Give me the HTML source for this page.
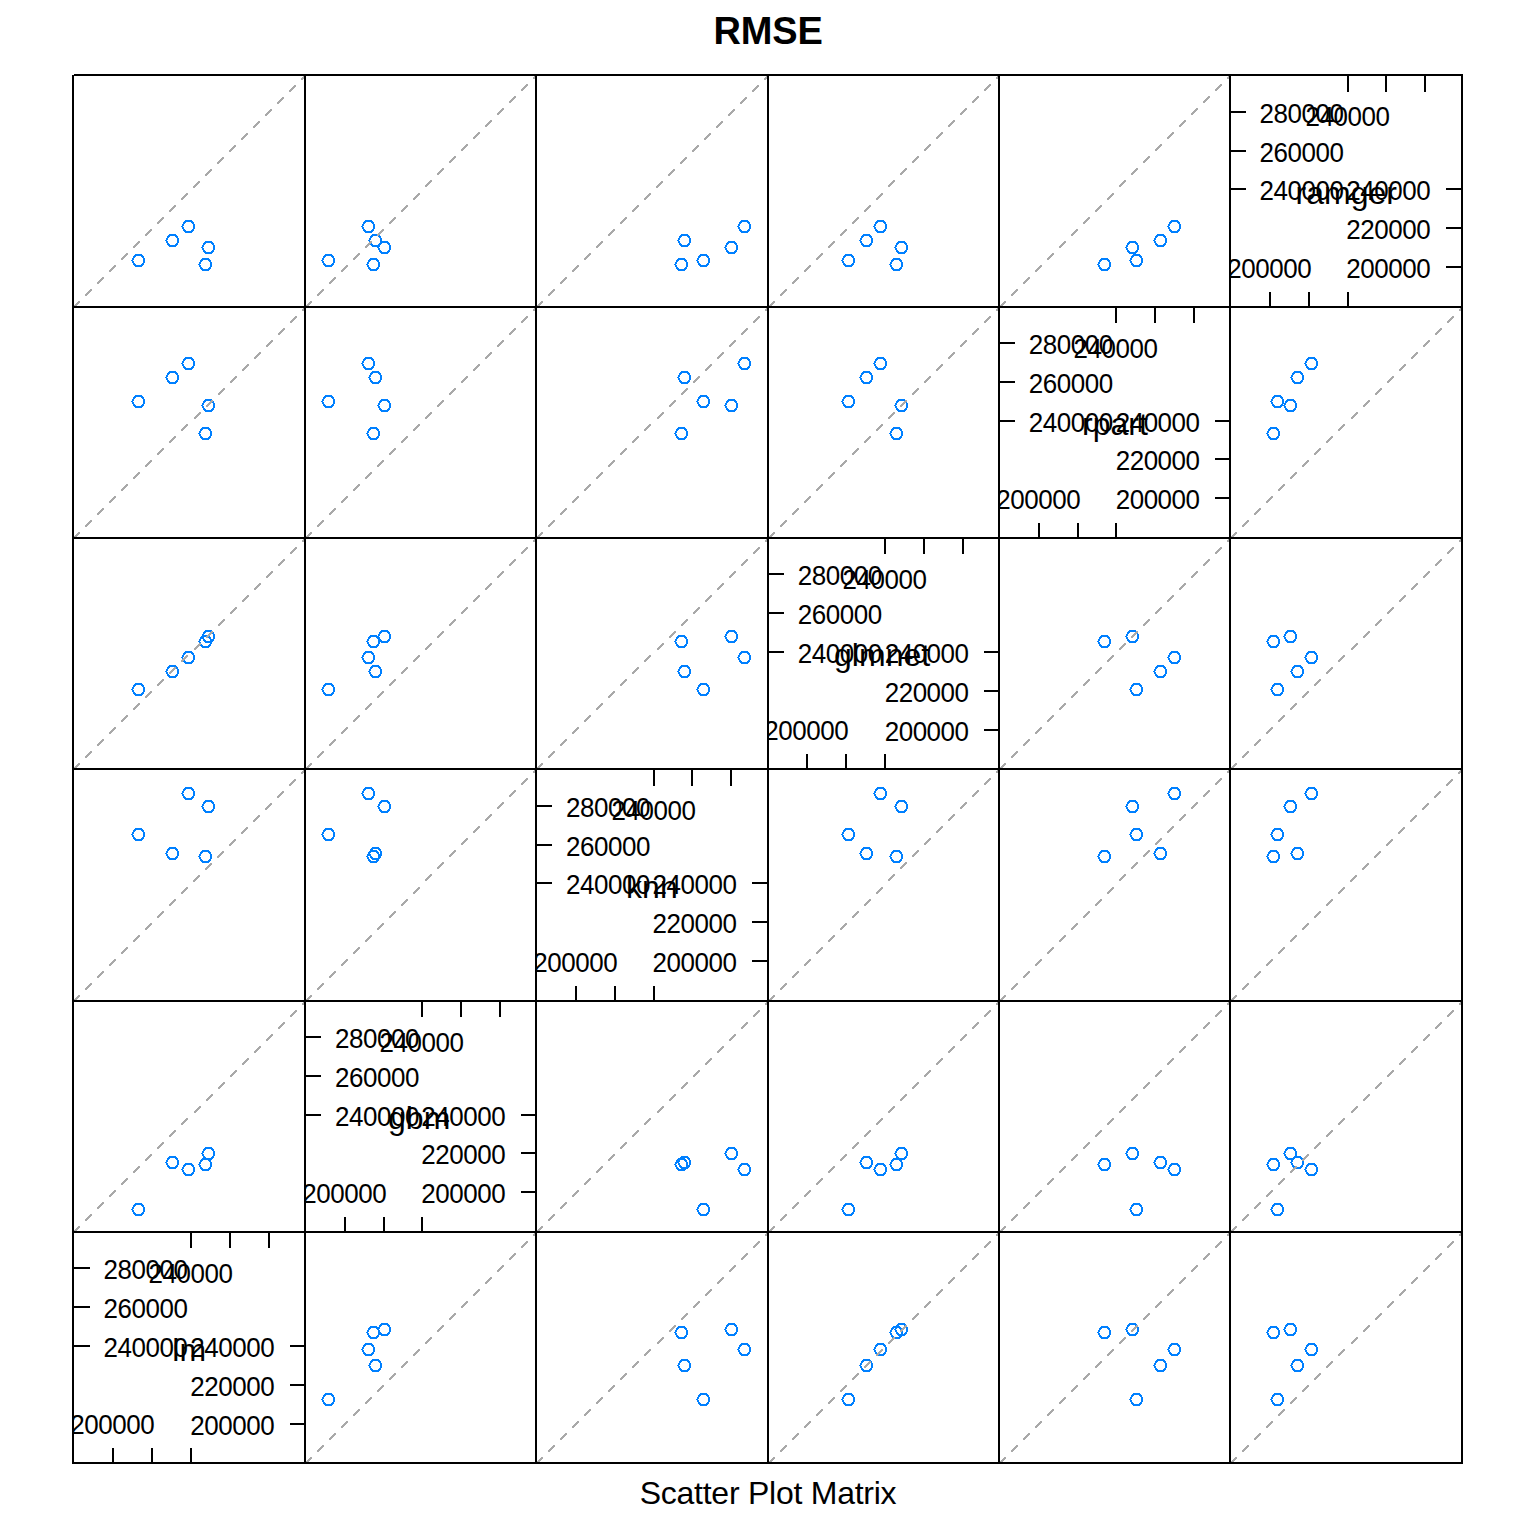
<!DOCTYPE html>
<html><head><meta charset="utf-8"><title>RMSE</title>
<style>html,body{margin:0;padding:0;background:#fff;}svg{display:block;}text{font-family:"Liberation Sans",sans-serif;fill:#000;}.ax{font-size:26px;letter-spacing:-0.46px;}.vn{font-size:32px;}.pt{fill:none;stroke:#0080ff;stroke-width:2;}.dg{stroke:#a9a9a9;stroke-width:2;stroke-dasharray:8.7 8.27;fill:none;shape-rendering:crispEdges;}.ln{fill:#000;shape-rendering:crispEdges;}</style></head><body>
<svg width="1536" height="1536" viewBox="0 0 1536 1536">
<rect x="0" y="0" width="1536" height="1536" fill="#ffffff"/>
<defs>
<clipPath id="cp0"><rect x="74" y="1233" width="230" height="229"/></clipPath>
<clipPath id="cp1"><rect x="306" y="1002" width="229" height="229"/></clipPath>
<clipPath id="cp2"><rect x="537" y="770" width="230" height="230"/></clipPath>
<clipPath id="cp3"><rect x="769" y="539" width="229" height="229"/></clipPath>
<clipPath id="cp4"><rect x="1000" y="308" width="229" height="229"/></clipPath>
<clipPath id="cp5"><rect x="1231" y="76" width="230" height="230"/></clipPath>
<path id="c" d="M3 0h7v1h-7zM2 1h9v1h-9zM1 2h3v1h-3zM9 2h3v1h-3zM1 3h2v1h-2zM10 3h2v1h-2zM0 4h2v1h-2zM11 4h2v1h-2zM0 5h2v1h-2zM11 5h2v1h-2zM-1 6h2v1h-2zM11 6h2v1h-2zM0 7h2v1h-2zM11 7h2v1h-2zM0 8h2v1h-2zM11 8h2v1h-2zM1 9h2v1h-2zM10 9h2v1h-2zM1 10h3v1h-3zM9 10h3v1h-3zM2 11h9v1h-9zM3 12h7v1h-7z" fill="#0080ff" shape-rendering="crispEdges"/>
<path id="d0" d="M0 0h2v2h-2zM1 -1h2v2h-2zM2 -2h2v2h-2zM3 -3h2v2h-2zM4 -4h2v2h-2zM5 -5h2v2h-2zM12 -12h2v2h-2zM13 -13h2v2h-2zM14 -14h2v2h-2zM15 -15h2v2h-2zM16 -16h2v2h-2zM17 -17h2v2h-2zM24 -24h2v2h-2zM25 -25h2v2h-2zM26 -26h2v2h-2zM27 -27h2v2h-2zM28 -28h2v2h-2zM29 -29h2v2h-2zM36 -36h2v2h-2zM37 -37h2v2h-2zM38 -38h2v2h-2zM39 -39h2v2h-2zM40 -40h2v2h-2zM41 -41h2v2h-2zM48 -48h2v2h-2zM49 -49h2v2h-2zM50 -50h2v2h-2zM51 -51h2v2h-2zM52 -52h2v2h-2zM53 -53h2v2h-2zM60 -60h2v2h-2zM61 -61h2v2h-2zM62 -62h2v2h-2zM63 -63h2v2h-2zM64 -64h2v2h-2zM65 -65h2v2h-2zM72 -72h2v2h-2zM73 -73h2v2h-2zM74 -74h2v2h-2zM75 -75h2v2h-2zM76 -76h2v2h-2zM77 -77h2v2h-2zM84 -84h2v2h-2zM85 -85h2v2h-2zM86 -86h2v2h-2zM87 -87h2v2h-2zM88 -88h2v2h-2zM89 -89h2v2h-2zM96 -96h2v2h-2zM97 -97h2v2h-2zM98 -98h2v2h-2zM99 -99h2v2h-2zM100 -100h2v2h-2zM101 -101h2v2h-2zM108 -108h2v2h-2zM109 -109h2v2h-2zM110 -110h2v2h-2zM111 -111h2v2h-2zM112 -112h2v2h-2zM113 -113h2v2h-2zM120 -120h2v2h-2zM121 -121h2v2h-2zM122 -122h2v2h-2zM123 -123h2v2h-2zM124 -124h2v2h-2zM125 -125h2v2h-2zM132 -132h2v2h-2zM133 -133h2v2h-2zM134 -134h2v2h-2zM135 -135h2v2h-2zM136 -136h2v2h-2zM137 -137h2v2h-2zM144 -144h2v2h-2zM145 -145h2v2h-2zM146 -146h2v2h-2zM147 -147h2v2h-2zM148 -148h2v2h-2zM149 -149h2v2h-2zM156 -156h2v2h-2zM157 -157h2v2h-2zM158 -158h2v2h-2zM159 -159h2v2h-2zM160 -160h2v2h-2zM161 -161h2v2h-2zM168 -168h2v2h-2zM169 -169h2v2h-2zM170 -170h2v2h-2zM171 -171h2v2h-2zM172 -172h2v2h-2zM173 -173h2v2h-2zM180 -180h2v2h-2zM181 -181h2v2h-2zM182 -182h2v2h-2zM183 -183h2v2h-2zM184 -184h2v2h-2zM185 -185h2v2h-2zM192 -192h2v2h-2zM193 -193h2v2h-2zM194 -194h2v2h-2zM195 -195h2v2h-2zM196 -196h2v2h-2zM197 -197h2v2h-2zM204 -204h2v2h-2zM205 -205h2v2h-2zM206 -206h2v2h-2zM207 -207h2v2h-2zM208 -208h2v2h-2zM209 -209h2v2h-2zM216 -216h2v2h-2zM217 -217h2v2h-2zM218 -218h2v2h-2zM219 -219h2v2h-2zM220 -220h2v2h-2zM221 -221h2v2h-2zM228 -228h2v2h-2zM229 -229h2v2h-2zM230 -230h2v2h-2z" fill="#a9a9a9" shape-rendering="crispEdges"/>
<path id="dx" d="M0 0h2v2h-2zM1 -1h2v2h-2zM2 -2h2v2h-2zM3 -3h2v2h-2zM4 -4h2v2h-2zM5 -5h2v2h-2zM12 -12h2v2h-2zM13 -13h2v2h-2zM14 -14h2v2h-2zM15 -15h2v2h-2zM16 -16h2v2h-2zM17 -17h2v2h-2zM24 -24h2v2h-2zM25 -25h2v2h-2zM26 -26h2v2h-2zM27 -27h2v2h-2zM28 -28h2v2h-2zM29 -29h2v2h-2zM36 -36h2v2h-2zM37 -37h2v2h-2zM38 -38h2v2h-2zM39 -39h2v2h-2zM40 -40h2v2h-2zM41 -41h2v2h-2zM48 -48h2v2h-2zM49 -49h2v2h-2zM50 -50h2v2h-2zM51 -51h2v2h-2zM52 -52h2v2h-2zM53 -53h2v2h-2zM60 -60h2v2h-2zM61 -61h2v2h-2zM62 -62h2v2h-2zM63 -63h2v2h-2zM64 -64h2v2h-2zM65 -65h2v2h-2zM72 -72h2v2h-2zM73 -73h2v2h-2zM74 -74h2v2h-2zM75 -75h2v2h-2zM76 -76h2v2h-2zM77 -77h2v2h-2zM84 -84h2v2h-2zM85 -85h2v2h-2zM86 -86h2v2h-2zM87 -87h2v2h-2zM88 -88h2v2h-2zM89 -89h2v2h-2zM96 -96h2v2h-2zM97 -97h2v2h-2zM98 -98h2v2h-2zM99 -99h2v2h-2zM100 -100h2v2h-2zM101 -101h2v2h-2zM108 -108h2v2h-2zM109 -109h2v2h-2zM110 -110h2v2h-2zM111 -111h2v2h-2zM112 -112h2v2h-2zM113 -113h2v2h-2zM121 -120h2v2h-2zM122 -121h2v2h-2zM123 -122h2v2h-2zM124 -123h2v2h-2zM125 -124h2v2h-2zM126 -125h2v2h-2zM133 -132h2v2h-2zM134 -133h2v2h-2zM135 -134h2v2h-2zM136 -135h2v2h-2zM137 -136h2v2h-2zM138 -137h2v2h-2zM145 -144h2v2h-2zM146 -145h2v2h-2zM147 -146h2v2h-2zM148 -147h2v2h-2zM149 -148h2v2h-2zM150 -149h2v2h-2zM157 -156h2v2h-2zM158 -157h2v2h-2zM159 -158h2v2h-2zM160 -159h2v2h-2zM161 -160h2v2h-2zM162 -161h2v2h-2zM169 -168h2v2h-2zM170 -169h2v2h-2zM171 -170h2v2h-2zM172 -171h2v2h-2zM173 -172h2v2h-2zM174 -173h2v2h-2zM181 -180h2v2h-2zM182 -181h2v2h-2zM183 -182h2v2h-2zM184 -183h2v2h-2zM185 -184h2v2h-2zM186 -185h2v2h-2zM193 -192h2v2h-2zM194 -193h2v2h-2zM195 -194h2v2h-2zM196 -195h2v2h-2zM197 -196h2v2h-2zM198 -197h2v2h-2zM205 -204h2v2h-2zM206 -205h2v2h-2zM207 -206h2v2h-2zM208 -207h2v2h-2zM209 -208h2v2h-2zM210 -209h2v2h-2zM217 -216h2v2h-2zM218 -217h2v2h-2zM219 -218h2v2h-2zM220 -219h2v2h-2zM221 -220h2v2h-2zM222 -221h2v2h-2zM229 -228h2v2h-2zM230 -229h2v2h-2zM231 -230h2v2h-2z" fill="#a9a9a9" shape-rendering="crispEdges"/>
<path id="dy" d="M0 0h2v2h-2zM1 -1h2v2h-2zM2 -2h2v2h-2zM3 -3h2v2h-2zM4 -4h2v2h-2zM5 -5h2v2h-2zM12 -12h2v2h-2zM13 -13h2v2h-2zM14 -14h2v2h-2zM15 -15h2v2h-2zM16 -16h2v2h-2zM17 -17h2v2h-2zM24 -24h2v2h-2zM25 -25h2v2h-2zM26 -26h2v2h-2zM27 -27h2v2h-2zM28 -28h2v2h-2zM29 -29h2v2h-2zM36 -36h2v2h-2zM37 -37h2v2h-2zM38 -38h2v2h-2zM39 -39h2v2h-2zM40 -40h2v2h-2zM41 -41h2v2h-2zM48 -48h2v2h-2zM49 -49h2v2h-2zM50 -50h2v2h-2zM51 -51h2v2h-2zM52 -52h2v2h-2zM53 -53h2v2h-2zM60 -60h2v2h-2zM61 -61h2v2h-2zM62 -62h2v2h-2zM63 -63h2v2h-2zM64 -64h2v2h-2zM65 -65h2v2h-2zM72 -72h2v2h-2zM73 -73h2v2h-2zM74 -74h2v2h-2zM75 -75h2v2h-2zM76 -76h2v2h-2zM77 -77h2v2h-2zM84 -84h2v2h-2zM85 -85h2v2h-2zM86 -86h2v2h-2zM87 -87h2v2h-2zM88 -88h2v2h-2zM89 -89h2v2h-2zM96 -96h2v2h-2zM97 -97h2v2h-2zM98 -98h2v2h-2zM99 -99h2v2h-2zM100 -100h2v2h-2zM101 -101h2v2h-2zM108 -108h2v2h-2zM109 -109h2v2h-2zM110 -110h2v2h-2zM111 -111h2v2h-2zM112 -112h2v2h-2zM113 -113h2v2h-2zM120 -121h2v2h-2zM121 -122h2v2h-2zM122 -123h2v2h-2zM123 -124h2v2h-2zM124 -125h2v2h-2zM125 -126h2v2h-2zM132 -133h2v2h-2zM133 -134h2v2h-2zM134 -135h2v2h-2zM135 -136h2v2h-2zM136 -137h2v2h-2zM137 -138h2v2h-2zM144 -145h2v2h-2zM145 -146h2v2h-2zM146 -147h2v2h-2zM147 -148h2v2h-2zM148 -149h2v2h-2zM149 -150h2v2h-2zM156 -157h2v2h-2zM157 -158h2v2h-2zM158 -159h2v2h-2zM159 -160h2v2h-2zM160 -161h2v2h-2zM161 -162h2v2h-2zM168 -169h2v2h-2zM169 -170h2v2h-2zM170 -171h2v2h-2zM171 -172h2v2h-2zM172 -173h2v2h-2zM173 -174h2v2h-2zM180 -181h2v2h-2zM181 -182h2v2h-2zM182 -183h2v2h-2zM183 -184h2v2h-2zM184 -185h2v2h-2zM185 -186h2v2h-2zM192 -193h2v2h-2zM193 -194h2v2h-2zM194 -195h2v2h-2zM195 -196h2v2h-2zM196 -197h2v2h-2zM197 -198h2v2h-2zM204 -205h2v2h-2zM205 -206h2v2h-2zM206 -207h2v2h-2zM207 -208h2v2h-2zM208 -209h2v2h-2zM209 -210h2v2h-2zM216 -217h2v2h-2zM217 -218h2v2h-2zM218 -219h2v2h-2zM219 -220h2v2h-2zM220 -221h2v2h-2zM221 -222h2v2h-2zM228 -229h2v2h-2zM229 -230h2v2h-2zM230 -231h2v2h-2z" fill="#a9a9a9" shape-rendering="crispEdges"/>
</defs>
<text x="768.1" y="43.8" text-anchor="middle" style="font-size:38px;font-weight:bold;letter-spacing:-0.2px">RMSE</text>
<text x="768" y="1503.5" text-anchor="middle" style="font-size:32px;letter-spacing:-0.25px">Scatter Plot Matrix</text>
<g>
<use href="#c" x="132" y="254"/>
<use href="#c" x="166" y="234"/>
<use href="#c" x="182" y="220"/>
<use href="#c" x="202" y="241"/>
<use href="#c" x="199" y="258"/>
<use href="#d0" x="73" y="306"/>
</g>
<g>
<use href="#c" x="322" y="254"/>
<use href="#c" x="369" y="234"/>
<use href="#c" x="362" y="220"/>
<use href="#c" x="378" y="241"/>
<use href="#c" x="367" y="258"/>
<use href="#dy" x="305" y="306"/>
</g>
<g>
<use href="#c" x="697" y="254"/>
<use href="#c" x="678" y="234"/>
<use href="#c" x="738" y="220"/>
<use href="#c" x="725" y="241"/>
<use href="#c" x="675" y="258"/>
<use href="#d0" x="536" y="306"/>
</g>
<g>
<use href="#c" x="842" y="254"/>
<use href="#c" x="860" y="234"/>
<use href="#c" x="874" y="220"/>
<use href="#c" x="895" y="241"/>
<use href="#c" x="890" y="258"/>
<use href="#dy" x="768" y="306"/>
</g>
<g>
<use href="#c" x="1130" y="254"/>
<use href="#c" x="1154" y="234"/>
<use href="#c" x="1168" y="220"/>
<use href="#c" x="1126" y="241"/>
<use href="#c" x="1098" y="258"/>
<use href="#dy" x="999" y="306"/>
</g>
<g>
<use href="#c" x="132" y="395"/>
<use href="#c" x="166" y="371"/>
<use href="#c" x="182" y="357"/>
<use href="#c" x="202" y="399"/>
<use href="#c" x="199" y="427"/>
<use href="#dx" x="73" y="537"/>
</g>
<g>
<use href="#c" x="322" y="395"/>
<use href="#c" x="369" y="371"/>
<use href="#c" x="362" y="357"/>
<use href="#c" x="378" y="399"/>
<use href="#c" x="367" y="427"/>
<use href="#d0" x="305" y="537"/>
</g>
<g>
<use href="#c" x="697" y="395"/>
<use href="#c" x="678" y="371"/>
<use href="#c" x="738" y="357"/>
<use href="#c" x="725" y="399"/>
<use href="#c" x="675" y="427"/>
<use href="#dx" x="536" y="537"/>
</g>
<g>
<use href="#c" x="842" y="395"/>
<use href="#c" x="860" y="371"/>
<use href="#c" x="874" y="357"/>
<use href="#c" x="895" y="399"/>
<use href="#c" x="890" y="427"/>
<use href="#d0" x="768" y="537"/>
</g>
<g>
<use href="#c" x="1271" y="395"/>
<use href="#c" x="1291" y="371"/>
<use href="#c" x="1305" y="357"/>
<use href="#c" x="1284" y="399"/>
<use href="#c" x="1267" y="427"/>
<use href="#dx" x="1230" y="537"/>
</g>
<g>
<use href="#c" x="132" y="683"/>
<use href="#c" x="166" y="665"/>
<use href="#c" x="182" y="651"/>
<use href="#c" x="202" y="630"/>
<use href="#c" x="199" y="635"/>
<use href="#dx" x="73" y="768"/>
</g>
<g>
<use href="#c" x="322" y="683"/>
<use href="#c" x="369" y="665"/>
<use href="#c" x="362" y="651"/>
<use href="#c" x="378" y="630"/>
<use href="#c" x="367" y="635"/>
<use href="#d0" x="305" y="768"/>
</g>
<g>
<use href="#c" x="697" y="683"/>
<use href="#c" x="678" y="665"/>
<use href="#c" x="738" y="651"/>
<use href="#c" x="725" y="630"/>
<use href="#c" x="675" y="635"/>
<use href="#dx" x="536" y="768"/>
</g>
<g>
<use href="#c" x="1130" y="683"/>
<use href="#c" x="1154" y="665"/>
<use href="#c" x="1168" y="651"/>
<use href="#c" x="1126" y="630"/>
<use href="#c" x="1098" y="635"/>
<use href="#d0" x="999" y="768"/>
</g>
<g>
<use href="#c" x="1271" y="683"/>
<use href="#c" x="1291" y="665"/>
<use href="#c" x="1305" y="651"/>
<use href="#c" x="1284" y="630"/>
<use href="#c" x="1267" y="635"/>
<use href="#dx" x="1230" y="768"/>
</g>
<g>
<use href="#c" x="132" y="828"/>
<use href="#c" x="166" y="847"/>
<use href="#c" x="182" y="787"/>
<use href="#c" x="202" y="800"/>
<use href="#c" x="199" y="850"/>
<use href="#d0" x="73" y="1000"/>
</g>
<g>
<use href="#c" x="322" y="828"/>
<use href="#c" x="369" y="847"/>
<use href="#c" x="362" y="787"/>
<use href="#c" x="378" y="800"/>
<use href="#c" x="367" y="850"/>
<use href="#dy" x="305" y="1000"/>
</g>
<g>
<use href="#c" x="842" y="828"/>
<use href="#c" x="860" y="847"/>
<use href="#c" x="874" y="787"/>
<use href="#c" x="895" y="800"/>
<use href="#c" x="890" y="850"/>
<use href="#dy" x="768" y="1000"/>
</g>
<g>
<use href="#c" x="1130" y="828"/>
<use href="#c" x="1154" y="847"/>
<use href="#c" x="1168" y="787"/>
<use href="#c" x="1126" y="800"/>
<use href="#c" x="1098" y="850"/>
<use href="#dy" x="999" y="1000"/>
</g>
<g>
<use href="#c" x="1271" y="828"/>
<use href="#c" x="1291" y="847"/>
<use href="#c" x="1305" y="787"/>
<use href="#c" x="1284" y="800"/>
<use href="#c" x="1267" y="850"/>
<use href="#d0" x="1230" y="1000"/>
</g>
<g>
<use href="#c" x="132" y="1203"/>
<use href="#c" x="166" y="1156"/>
<use href="#c" x="182" y="1163"/>
<use href="#c" x="202" y="1147"/>
<use href="#c" x="199" y="1158"/>
<use href="#dx" x="73" y="1231"/>
</g>
<g>
<use href="#c" x="697" y="1203"/>
<use href="#c" x="678" y="1156"/>
<use href="#c" x="738" y="1163"/>
<use href="#c" x="725" y="1147"/>
<use href="#c" x="675" y="1158"/>
<use href="#dx" x="536" y="1231"/>
</g>
<g>
<use href="#c" x="842" y="1203"/>
<use href="#c" x="860" y="1156"/>
<use href="#c" x="874" y="1163"/>
<use href="#c" x="895" y="1147"/>
<use href="#c" x="890" y="1158"/>
<use href="#d0" x="768" y="1231"/>
</g>
<g>
<use href="#c" x="1130" y="1203"/>
<use href="#c" x="1154" y="1156"/>
<use href="#c" x="1168" y="1163"/>
<use href="#c" x="1126" y="1147"/>
<use href="#c" x="1098" y="1158"/>
<use href="#d0" x="999" y="1231"/>
</g>
<g>
<use href="#c" x="1271" y="1203"/>
<use href="#c" x="1291" y="1156"/>
<use href="#c" x="1305" y="1163"/>
<use href="#c" x="1284" y="1147"/>
<use href="#c" x="1267" y="1158"/>
<use href="#dx" x="1230" y="1231"/>
</g>
<g>
<use href="#c" x="322" y="1393"/>
<use href="#c" x="369" y="1359"/>
<use href="#c" x="362" y="1343"/>
<use href="#c" x="378" y="1323"/>
<use href="#c" x="367" y="1326"/>
<use href="#d0" x="305" y="1462"/>
</g>
<g>
<use href="#c" x="697" y="1393"/>
<use href="#c" x="678" y="1359"/>
<use href="#c" x="738" y="1343"/>
<use href="#c" x="725" y="1323"/>
<use href="#c" x="675" y="1326"/>
<use href="#dx" x="536" y="1462"/>
</g>
<g>
<use href="#c" x="842" y="1393"/>
<use href="#c" x="860" y="1359"/>
<use href="#c" x="874" y="1343"/>
<use href="#c" x="895" y="1323"/>
<use href="#c" x="890" y="1326"/>
<use href="#d0" x="768" y="1462"/>
</g>
<g>
<use href="#c" x="1130" y="1393"/>
<use href="#c" x="1154" y="1359"/>
<use href="#c" x="1168" y="1343"/>
<use href="#c" x="1126" y="1323"/>
<use href="#c" x="1098" y="1326"/>
<use href="#d0" x="999" y="1462"/>
</g>
<g>
<use href="#c" x="1271" y="1393"/>
<use href="#c" x="1291" y="1359"/>
<use href="#c" x="1305" y="1343"/>
<use href="#c" x="1284" y="1323"/>
<use href="#c" x="1267" y="1326"/>
<use href="#dx" x="1230" y="1462"/>
</g>
<g clip-path="url(#cp0)">
<rect class="ln" x="112" y="1448" width="2" height="15"/>
<rect class="ln" x="290" y="1423" width="15" height="2"/>
<rect class="ln" x="151" y="1448" width="2" height="15"/>
<rect class="ln" x="290" y="1384" width="15" height="2"/>
<rect class="ln" x="190" y="1448" width="2" height="15"/>
<rect class="ln" x="290" y="1345" width="15" height="2"/>
<rect class="ln" x="190" y="1232" width="2" height="16"/>
<rect class="ln" x="73" y="1345" width="17" height="2"/>
<rect class="ln" x="229" y="1232" width="2" height="16"/>
<rect class="ln" x="73" y="1306" width="17" height="2"/>
<rect class="ln" x="268" y="1232" width="2" height="16"/>
<rect class="ln" x="73" y="1267" width="17" height="2"/>
<text class="ax" transform="translate(103.6 1356.8) scale(1 1.05)">240000</text>
<text class="ax" transform="translate(103.6 1317.8) scale(1 1.05)">260000</text>
<text class="ax" transform="translate(103.6 1278.8) scale(1 1.05)">280000</text>
<text class="ax" transform="translate(274.2 1434.8) scale(1 1.05)" text-anchor="end">200000</text>
<text class="ax" transform="translate(274.2 1395.8) scale(1 1.05)" text-anchor="end">220000</text>
<text class="ax" transform="translate(274.2 1356.8) scale(1 1.05)" text-anchor="end">240000</text>
<text class="ax" transform="translate(190.5 1282.8) scale(1 1.05)" text-anchor="middle">240000</text>
<text class="ax" transform="translate(112.3 1434) scale(1 1.05)" text-anchor="middle">200000</text>
<text class="vn" x="189.2" y="1360.9" text-anchor="middle">lm</text>
</g>
<g clip-path="url(#cp1)">
<rect class="ln" x="344" y="1217" width="2" height="15"/>
<rect class="ln" x="521" y="1191" width="15" height="2"/>
<rect class="ln" x="383" y="1217" width="2" height="15"/>
<rect class="ln" x="521" y="1152" width="15" height="2"/>
<rect class="ln" x="421" y="1217" width="2" height="15"/>
<rect class="ln" x="521" y="1114" width="15" height="2"/>
<rect class="ln" x="421" y="1001" width="2" height="16"/>
<rect class="ln" x="305" y="1114" width="16" height="2"/>
<rect class="ln" x="460" y="1001" width="2" height="16"/>
<rect class="ln" x="305" y="1075" width="16" height="2"/>
<rect class="ln" x="499" y="1001" width="2" height="16"/>
<rect class="ln" x="305" y="1036" width="16" height="2"/>
<text class="ax" transform="translate(335 1125.8) scale(1 1.05)">240000</text>
<text class="ax" transform="translate(335 1086.8) scale(1 1.05)">260000</text>
<text class="ax" transform="translate(335 1047.8) scale(1 1.05)">280000</text>
<text class="ax" transform="translate(505.2 1202.8) scale(1 1.05)" text-anchor="end">200000</text>
<text class="ax" transform="translate(505.2 1163.8) scale(1 1.05)" text-anchor="end">220000</text>
<text class="ax" transform="translate(505.2 1125.8) scale(1 1.05)" text-anchor="end">240000</text>
<text class="ax" transform="translate(421.5 1051.8) scale(1 1.05)" text-anchor="middle">240000</text>
<text class="ax" transform="translate(344.3 1203) scale(1 1.05)" text-anchor="middle">200000</text>
<text class="vn" x="419.2" y="1129" text-anchor="middle">gbm</text>
</g>
<g clip-path="url(#cp2)">
<rect class="ln" x="575" y="986" width="2" height="15"/>
<rect class="ln" x="752" y="960" width="16" height="2"/>
<rect class="ln" x="614" y="986" width="2" height="15"/>
<rect class="ln" x="752" y="921" width="16" height="2"/>
<rect class="ln" x="653" y="986" width="2" height="15"/>
<rect class="ln" x="752" y="882" width="16" height="2"/>
<rect class="ln" x="653" y="769" width="2" height="17"/>
<rect class="ln" x="536" y="882" width="16" height="2"/>
<rect class="ln" x="691" y="769" width="2" height="17"/>
<rect class="ln" x="536" y="844" width="16" height="2"/>
<rect class="ln" x="730" y="769" width="2" height="17"/>
<rect class="ln" x="536" y="805" width="16" height="2"/>
<text class="ax" transform="translate(566 893.8) scale(1 1.05)">240000</text>
<text class="ax" transform="translate(566 855.8) scale(1 1.05)">260000</text>
<text class="ax" transform="translate(566 816.8) scale(1 1.05)">280000</text>
<text class="ax" transform="translate(736.5 971.8) scale(1 1.05)" text-anchor="end">200000</text>
<text class="ax" transform="translate(736.5 932.8) scale(1 1.05)" text-anchor="end">220000</text>
<text class="ax" transform="translate(736.5 893.8) scale(1 1.05)" text-anchor="end">240000</text>
<text class="ax" transform="translate(653.5 819.8) scale(1 1.05)" text-anchor="middle">240000</text>
<text class="ax" transform="translate(575.3 972) scale(1 1.05)" text-anchor="middle">200000</text>
<text class="vn" x="651.9" y="897.9" text-anchor="middle">knn</text>
</g>
<g clip-path="url(#cp3)">
<rect class="ln" x="806" y="754" width="2" height="15"/>
<rect class="ln" x="984" y="729" width="15" height="2"/>
<rect class="ln" x="845" y="754" width="2" height="15"/>
<rect class="ln" x="984" y="690" width="15" height="2"/>
<rect class="ln" x="884" y="754" width="2" height="15"/>
<rect class="ln" x="984" y="651" width="15" height="2"/>
<rect class="ln" x="884" y="538" width="2" height="16"/>
<rect class="ln" x="768" y="651" width="16" height="2"/>
<rect class="ln" x="923" y="538" width="2" height="16"/>
<rect class="ln" x="768" y="612" width="16" height="2"/>
<rect class="ln" x="962" y="538" width="2" height="16"/>
<rect class="ln" x="768" y="573" width="16" height="2"/>
<text class="ax" transform="translate(797.8 662.8) scale(1 1.05)">240000</text>
<text class="ax" transform="translate(797.8 623.8) scale(1 1.05)">260000</text>
<text class="ax" transform="translate(797.8 584.8) scale(1 1.05)">280000</text>
<text class="ax" transform="translate(968.6 740.8) scale(1 1.05)" text-anchor="end">200000</text>
<text class="ax" transform="translate(968.6 701.8) scale(1 1.05)" text-anchor="end">220000</text>
<text class="ax" transform="translate(968.6 662.8) scale(1 1.05)" text-anchor="end">240000</text>
<text class="ax" transform="translate(884.5 588.8) scale(1 1.05)" text-anchor="middle">240000</text>
<text class="ax" transform="translate(806.3 740) scale(1 1.05)" text-anchor="middle">200000</text>
<text class="vn" x="882.1" y="666.4" text-anchor="middle">glmnet</text>
</g>
<g clip-path="url(#cp4)">
<rect class="ln" x="1038" y="523" width="2" height="15"/>
<rect class="ln" x="1215" y="497" width="15" height="2"/>
<rect class="ln" x="1077" y="523" width="2" height="15"/>
<rect class="ln" x="1215" y="458" width="15" height="2"/>
<rect class="ln" x="1115" y="523" width="2" height="15"/>
<rect class="ln" x="1215" y="420" width="15" height="2"/>
<rect class="ln" x="1115" y="307" width="2" height="16"/>
<rect class="ln" x="999" y="420" width="16" height="2"/>
<rect class="ln" x="1154" y="307" width="2" height="16"/>
<rect class="ln" x="999" y="381" width="16" height="2"/>
<rect class="ln" x="1193" y="307" width="2" height="16"/>
<rect class="ln" x="999" y="342" width="16" height="2"/>
<text class="ax" transform="translate(1028.8 431.8) scale(1 1.05)">240000</text>
<text class="ax" transform="translate(1028.8 392.8) scale(1 1.05)">260000</text>
<text class="ax" transform="translate(1028.8 353.8) scale(1 1.05)">280000</text>
<text class="ax" transform="translate(1199.6 508.8) scale(1 1.05)" text-anchor="end">200000</text>
<text class="ax" transform="translate(1199.6 469.8) scale(1 1.05)" text-anchor="end">220000</text>
<text class="ax" transform="translate(1199.6 431.8) scale(1 1.05)" text-anchor="end">240000</text>
<text class="ax" transform="translate(1115.5 357.8) scale(1 1.05)" text-anchor="middle">240000</text>
<text class="ax" transform="translate(1038.3 509) scale(1 1.05)" text-anchor="middle">200000</text>
<text class="vn" x="1115" y="435.3" text-anchor="middle">rpart</text>
</g>
<g clip-path="url(#cp5)">
<rect class="ln" x="1269" y="292" width="2" height="15"/>
<rect class="ln" x="1446" y="266" width="16" height="2"/>
<rect class="ln" x="1308" y="292" width="2" height="15"/>
<rect class="ln" x="1446" y="227" width="16" height="2"/>
<rect class="ln" x="1347" y="292" width="2" height="15"/>
<rect class="ln" x="1446" y="188" width="16" height="2"/>
<rect class="ln" x="1347" y="75" width="2" height="17"/>
<rect class="ln" x="1230" y="188" width="16" height="2"/>
<rect class="ln" x="1385" y="75" width="2" height="17"/>
<rect class="ln" x="1230" y="150" width="16" height="2"/>
<rect class="ln" x="1424" y="75" width="2" height="17"/>
<rect class="ln" x="1230" y="111" width="16" height="2"/>
<text class="ax" transform="translate(1259.6 199.8) scale(1 1.05)">240000</text>
<text class="ax" transform="translate(1259.6 161.8) scale(1 1.05)">260000</text>
<text class="ax" transform="translate(1259.6 122.8) scale(1 1.05)">280000</text>
<text class="ax" transform="translate(1430.2 277.8) scale(1 1.05)" text-anchor="end">200000</text>
<text class="ax" transform="translate(1430.2 238.8) scale(1 1.05)" text-anchor="end">220000</text>
<text class="ax" transform="translate(1430.2 199.8) scale(1 1.05)" text-anchor="end">240000</text>
<text class="ax" transform="translate(1347.5 125.8) scale(1 1.05)" text-anchor="middle">240000</text>
<text class="ax" transform="translate(1269.3 278) scale(1 1.05)" text-anchor="middle">200000</text>
<text class="vn" x="1346.2" y="204.4" text-anchor="middle">ramger</text>
</g>
<rect class="ln" x="72" y="74" width="2" height="1390"/>
<rect class="ln" x="304" y="74" width="2" height="1390"/>
<rect class="ln" x="535" y="74" width="2" height="1390"/>
<rect class="ln" x="767" y="74" width="2" height="1390"/>
<rect class="ln" x="998" y="74" width="2" height="1390"/>
<rect class="ln" x="1229" y="74" width="2" height="1390"/>
<rect class="ln" x="1461" y="74" width="2" height="1390"/>
<rect class="ln" x="72" y="74" width="1391" height="2"/>
<rect class="ln" x="72" y="306" width="1391" height="2"/>
<rect class="ln" x="72" y="537" width="1391" height="2"/>
<rect class="ln" x="72" y="768" width="1391" height="2"/>
<rect class="ln" x="72" y="1000" width="1391" height="2"/>
<rect class="ln" x="72" y="1231" width="1391" height="2"/>
<rect class="ln" x="72" y="1462" width="1391" height="2"/>
<rect x="72" y="74" width="2" height="1" fill="#fff" shape-rendering="crispEdges"/>
</svg></body></html>
